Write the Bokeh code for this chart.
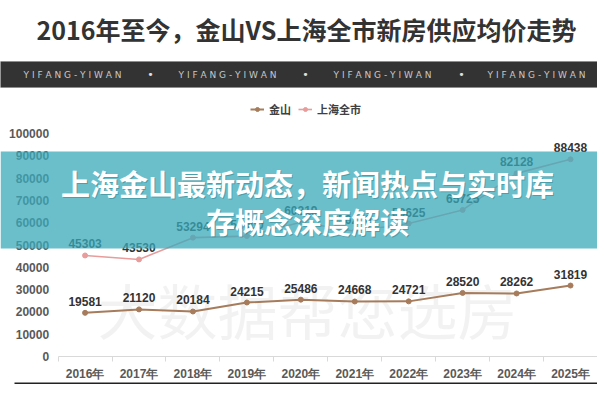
from bokeh.plotting import figure
from bokeh.models import (ColumnDataSource, Range1d, FixedTicker, LabelSet, Label,
                          BoxAnnotation, Legend, LegendItem, CustomJSTickFormatter,
                          NumeralTickFormatter)
from bokeh.embed import file_html
from bokeh.resources import INLINE
from bokeh.core.properties import value

# ---------------- data ----------------
years = ["2016年", "2017年", "2018年", "2019年", "2020年",
         "2021年", "2022年", "2023年", "2024年", "2025年"]
jinshan = [19581, 21120, 20184, 24215, 25486, 24668, 24721, 28520, 28262, 31819]
shanghai = [45303, 43530, 53294, 54000, 60219, 56200, 59625, 65725, 82128, 88438]
y_ticks = [0, 10000, 20000, 30000, 40000, 50000, 60000, 70000, 80000, 90000, 100000]
y_max = 100000
series_names = ["金山", "上海全市"]
title_text = "2016年至今，金山VS上海全市新房供应均价走势"
banner_text = "Y I F A N G - Y I W A N"
overlay_lines = ["上海金山最新动态，新闻热点与实时库", "存概念深度解读"]
watermark_text = "大数据帮您选房"

# ---------------- layout (canvas pixels) ----------------
W, H = 597, 384
PLOT_L, PLOT_R = 57.6, 597.0          # horizontal extent of the category area
PLOT_TOP, PLOT_BOTTOM = 133.0, 356.0  # y_max and 0 positions
C_JS = "#a67c5c"
C_SH = "#e89c9c"
NUM_FONT = "Liberation Sans"
CJK_FONT = "Noto Sans CJK SC"

n = len(years)
xs = [i + 0.5 for i in range(n)]
ux = (PLOT_R - PLOT_L) / n
uy = (PLOT_BOTTOM - PLOT_TOP) / y_max
x_range = Range1d(-PLOT_L / ux, n + (W - PLOT_R) / ux)
y_range = Range1d(-(H - PLOT_BOTTOM) / uy, y_max + PLOT_TOP / uy)

p = figure(width=W, height=H, output_backend="svg", toolbar_location=None,
           x_range=x_range, y_range=y_range,
           min_border=0, min_border_left=0, min_border_right=0,
           min_border_top=0, min_border_bottom=0,
           background_fill_color="white", border_fill_color="white")
p.outline_line_color = None
p.xgrid.visible = False
p.ygrid.visible = False

# x axis (drawn at y = 0 inside the canvas)
xa = p.xaxis[0]
xa.fixed_location = 0
xa.bounds = (0, n)
xa.ticker = FixedTicker(ticks=xs, minor_ticks=list(range(n + 1)))
xa.formatter = CustomJSTickFormatter(args=dict(labels=years),
                                     code="return labels[Math.floor(tick)] || '';")
xa.axis_line_color = "#d9d9d9"
xa.major_tick_line_color = None
xa.major_tick_in = 0
xa.major_tick_out = 0
xa.minor_tick_line_color = "#d9d9d9"
xa.minor_tick_in = 0
xa.minor_tick_out = 5
xa.major_label_standoff = 5
xa.major_label_text_font = NUM_FONT
xa.major_label_text_font_style = "bold"
xa.major_label_text_font_size = "12px"
xa.major_label_text_color = "#595959"

# y axis (drawn at x = left edge of the category area)
ya = p.yaxis[0]
ya.fixed_location = 0
ya.ticker = FixedTicker(ticks=y_ticks)
ya.formatter = NumeralTickFormatter(format="0")
ya.axis_line_color = None
ya.major_tick_line_color = None
ya.major_tick_in = 0
ya.major_tick_out = 0
ya.minor_tick_line_color = None
ya.major_label_standoff = 9
ya.major_label_text_font = NUM_FONT
ya.major_label_text_font_style = "bold"
ya.major_label_text_font_size = "12px"
ya.major_label_text_color = "#595959"

# watermark
p.add_layout(Label(x=307, y=308, x_units="canvas", y_units="canvas", text=watermark_text,
                   text_align="center", text_baseline="middle", text_font=CJK_FONT,
                   text_font_size="60px", text_color="#000000", text_alpha=0.05,
                   level="underlay"))

# series
src = ColumnDataSource(dict(x=xs, js=jinshan, sh=shanghai,
                            js_t=[str(v) for v in jinshan],
                            sh_t=[str(v) for v in shanghai]))
r_sh = p.line("x", "sh", source=src, line_color=C_SH, line_width=1.6)
r_shp = p.scatter("x", "sh", source=src, size=5, fill_color=C_SH, line_color=C_SH)
r_js = p.line("x", "js", source=src, line_color=C_JS, line_width=2)
r_jsp = p.scatter("x", "js", source=src, size=5, fill_color=C_JS, line_color=C_JS)

for col, ycol in (("js_t", "js"), ("sh_t", "sh")):
    p.add_layout(LabelSet(x="x", y=ycol, text=col, source=src, y_offset=7,
                          text_align="center", text_baseline="bottom",
                          text_font=value(NUM_FONT), text_font_style="bold",
                          text_font_size="12px", text_color="#333333"))

legend = Legend(items=[LegendItem(label=series_names[0], renderers=[r_js, r_jsp]),
                       LegendItem(label=series_names[1], renderers=[r_sh, r_shp])],
                orientation="horizontal", location=(250, H - 117),
                padding=0, margin=0, spacing=7, glyph_width=14, glyph_height=10,
                label_standoff=5, label_text_font=CJK_FONT, label_text_font_style="bold",
                label_text_font_size="11px", label_text_color="#404040",
                border_line_color=None, background_fill_alpha=0)
p.add_layout(legend)

# title
p.add_layout(Label(x=306, y=28, x_units="canvas", y_units="canvas", text=title_text,
                   text_align="center", text_baseline="middle", text_font=CJK_FONT,
                   text_font_style="bold", text_font_size="25px", text_color="#333333"))

# dark banner
p.add_layout(BoxAnnotation(left=-2, right=W + 2, top=61, bottom=87,
                           left_units="canvas", right_units="canvas",
                           top_units="canvas", bottom_units="canvas",
                           fill_color="#333333", fill_alpha=1, line_color="#777777",
                           line_width=1))
for cx in (72, 227, 382, 536):
    p.add_layout(Label(x=cx, y=74, x_units="canvas", y_units="canvas", text=banner_text,
                       text_align="center", text_baseline="middle", text_font="DejaVu Sans",
                       text_font_size="9px", text_color="#c8c8c8"))
for cx in (150, 305, 461):
    p.add_layout(Label(x=cx, y=74, x_units="canvas", y_units="canvas", text="•",
                       text_align="center", text_baseline="middle", text_font="DejaVu Sans",
                       text_font_size="11px", text_color="#e0e0e0"))

# teal overlay band
p.add_layout(BoxAnnotation(left=0, right=W, top=151, bottom=248,
                           left_units="canvas", right_units="canvas",
                           top_units="canvas", bottom_units="canvas",
                           fill_color="#39aaba", fill_alpha=0.75, line_color=None))
for text, cy in zip(overlay_lines, (182, 220)):
    p.add_layout(Label(x=308, y=cy + 1.5, x_units="canvas", y_units="canvas", text=text,
                       text_align="center", text_baseline="middle", text_font=CJK_FONT,
                       text_font_style="bold", text_font_size="29px",
                       text_color="#2a7f8c", text_alpha=0.5))
    p.add_layout(Label(x=307, y=cy, x_units="canvas", y_units="canvas", text=text,
                       text_align="center", text_baseline="middle", text_font=CJK_FONT,
                       text_font_style="bold", text_font_size="29px", text_color="white"))

# bottom rule
p.add_layout(BoxAnnotation(left=14, right=W, top=382, bottom=384,
                           left_units="canvas", right_units="canvas",
                           top_units="canvas", bottom_units="canvas",
                           fill_color="#222222", fill_alpha=1, line_color=None))

open("out.html", "w").write(file_html(p, INLINE))
